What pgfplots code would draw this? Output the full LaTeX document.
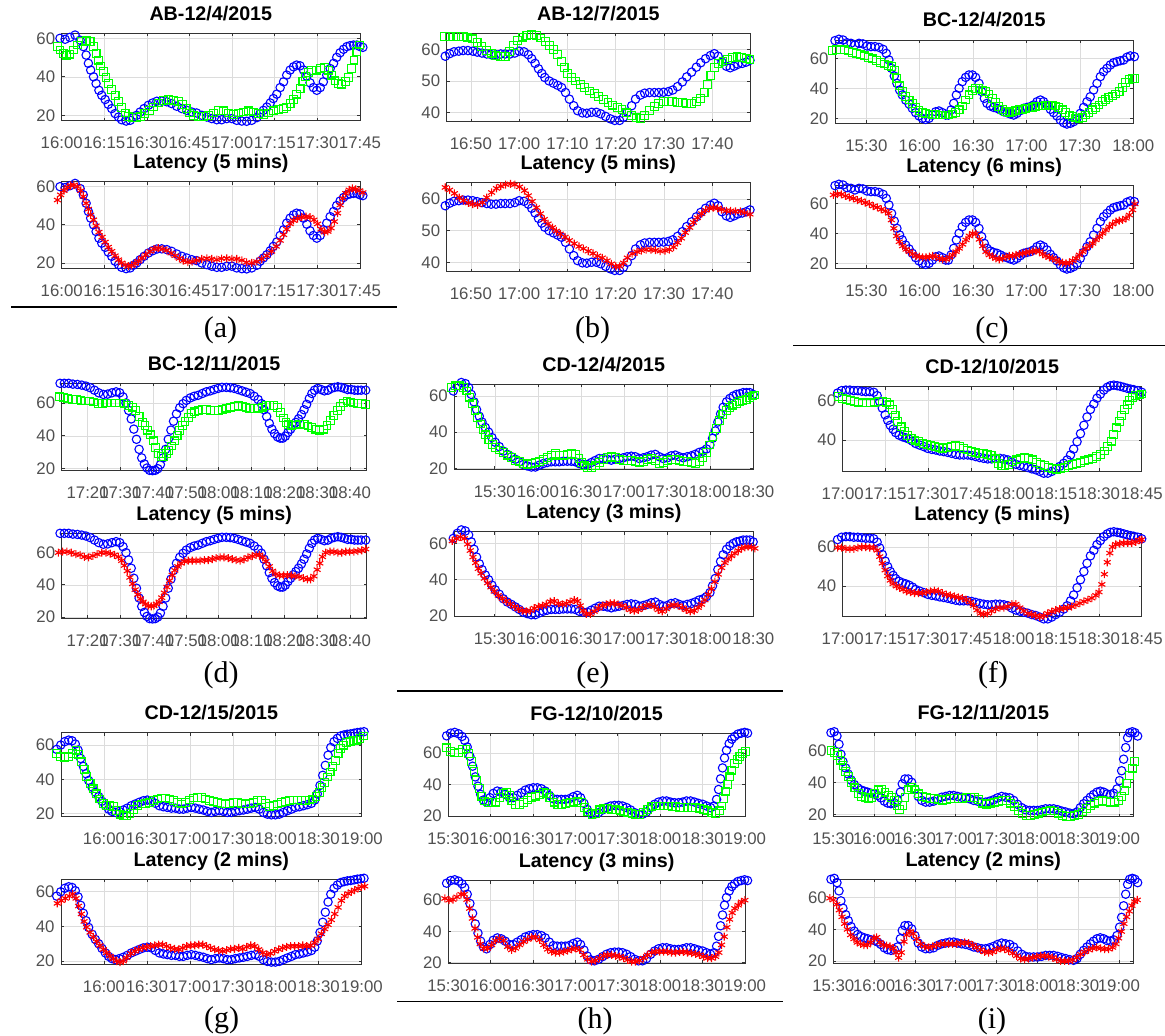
\documentclass[border=0pt]{standalone}
\usepackage{fontspec}
\setmainfont{Liberation Sans}
\newfontfamily\capfont{Liberation Serif}
\usepackage{pgfplots}
\usepackage{pgfplotstable}
\pgfplotsset{compat=1.18}

\definecolor{tickgray}{HTML}{505050}
\definecolor{boxgray}{HTML}{333333}
\definecolor{gridgray}{HTML}{DCDCDC}

\pgfplotsset{
  pn/.style={
    scale only axis, clip=false, anchor=north west,
    grid=major, grid style={gridgray, line width=0.6pt},
    axis line style={boxgray, line width=0.7pt},
    tick style={boxgray, line width=0.7pt}, major tick length=3pt, tick align=inside,
    tick label style={font=\fontsize{16.8}{18}\selectfont, text=tickgray},
    /pgf/number format/assume math mode=true,
    title style={font=\fontsize{19.7}{22}\selectfont\bfseries, anchor=base, at={(0.5,1)}, yshift=7pt},
    xticklabel style={anchor=base, yshift=-28pt},
    yticklabel style={anchor=east, xshift=-3pt},
  },
  bl/.style={only marks, mark=o, mark size=4.2pt, blue, line width=1.1pt},
  gr/.style={only marks, mark=square, mark size=3.9pt, green, line width=1.1pt},
  rd/.style={only marks, mark=asterisk, mark size=4pt, red, line width=1.1pt},
}

% blue series, shared by the upper and lower plot of each panel
\pgfplotstableread{
t v
-0.6 60
1.2 59.5
2.9 60.5
4.7 61.7
6.5 59
7.6 55.7
8.6 51.3
9.4 47
10.2 43.5
11.2 40
12.1 36.5
13.1 33
14.1 30.4
15.3 28.2
16.4 25.7
17.6 23.5
18.8 20.9
20 19.1
21.1 17.7
22.7 17
24.1 17.4
25.2 18.8
26.4 20
27.6 21.7
29 23.5
30.5 25.2
32 26.4
33.5 27.3
35.2 27.4
37 27
38.7 26.1
40.5 24.7
42.3 23.5
44 22.6
45.8 21.7
47.5 21.2
49.3 20
51.1 19.1
52.8 18.3
54.6 17.7
56.3 17.7
58.1 18.3
59.9 18.3
61.6 17.4
63.4 17
65.1 16.9
66.9 17.4
68.7 18.8
69.8 20.9
71 22.6
72.2 24.3
73.4 26.4
74.5 28.7
75.7 31
76.9 34.4
78.1 37.4
79.2 40.9
80.4 43.5
81.6 45.2
82.7 46.1
83.9 45.7
85.1 43.5
86.3 40.3
87.4 36.9
88.6 34.4
89.8 33
91 34.4
92.1 37.4
93.3 40.9
94.5 44.3
95.7 47
96.8 50.1
98 52.5
99.2 54.3
100.4 55.7
101.5 56.2
102.7 56.5
103.9 56.5
105 55.7
106 55.3
}\blueA

\pgfplotstableread{
t v
-0.3 57.9
0.6 58.7
1.5 59.3
2.5 59.5
3.4 59.7
4.4 59.7
5.4 59.5
6.3 59.2
7.3 58.9
8.3 58.6
9.2 58.4
10.2 58.4
11.2 58.6
12.1 58.6
13.1 58.6
14.1 58.9
15 59.5
16 59.3
16.9 58.4
17.6 57.1
18.3 55.6
19 53.9
19.7 52.4
20.3 51.1
21.2 50
22.1 49.3
23 48.6
23.8 47.9
24.6 46.3
25.4 44.2
26.3 42.1
27.1 40.5
28.1 39.8
29 39.7
30 40
31 40
31.9 39.5
32.9 38.7
33.9 37.9
34.8 37.4
35.8 37.4
36.6 38.4
37.4 40
38.3 42.1
39.1 44.2
40.1 45.5
41 46.1
42 46.3
43 46.3
43.9 46.3
44.9 46.4
45.9 46.6
46.8 47.1
47.8 48.2
48.8 49.7
49.7 51.3
50.7 52.8
51.7 54.4
52.6 55.8
53.6 57.1
54.6 58.1
55.4 58.7
56.2 57.9
57 56
57.9 54.7
58.7 54.2
59.5 54.7
60.3 55.3
61.2 55.6
62 56
62.8 56.6
}\blueB

\pgfplotstableread{
t v
12.4 71.8
14.6 72.7
16.9 72.2
19.1 70.4
21.4 70
23.6 68.9
25.9 70
28.1 69.6
30.4 68.2
32.6 67.8
34.9 67.8
37.1 67.3
39.4 66
41.2 63.3
42.7 58.9
44.2 53.3
45.7 48.2
47.2 43.3
48.7 38.9
50.2 35.6
52.1 32.2
54 29.6
55.8 26.7
57.7 23.8
59.6 21.6
61.5 20
63.3 19.3
65.2 20
67.1 22.2
69 24.4
70.8 24.9
72.7 23.8
74.6 22.2
76.1 22.2
77.6 25.6
79.1 30
80.6 35.6
82.1 40
83.9 44.4
85.8 47.3
87.7 48.9
89.6 48.9
91.4 47.3
93.3 43.3
94.8 37.8
96.3 33.3
97.8 30
99.7 28.2
101.5 27.3
103.4 26.7
105.3 25.6
107.2 24.4
109 23.8
110.9 22.9
112.8 22.2
114.6 23.3
116.5 25.1
118.4 26.7
120.3 27.3
122.1 27.8
124 28.9
125.9 31.1
127.8 32.2
129.6 31.1
131.5 28.9
133.4 26
135.2 23.8
137.1 21.6
139 18.9
140.9 17.1
142.7 16.2
144.6 16.7
146.5 17.8
148.4 20
150.2 23.3
152.1 27.3
154 31.1
155.8 34.4
157.7 38.9
159.6 43.3
161.5 47.8
163.3 51.1
165.2 53.3
167.1 55.6
169 57.1
170.8 57.8
172.7 58.4
174.6 58.9
176.4 60.7
178.3 61.6
180.6 61.1
}\blueC

\pgfplotstableread{
t v
11.6 72
12.9 72
14.2 72
15.5 71.5
16.9 71.3
18.2 70.9
19.5 70.3
20.8 69.3
22.1 67.8
23.4 66.2
24.8 65.2
26.1 65.4
27.4 66.2
28.7 66.8
29.8 66.2
30.8 63.7
31.7 60
32.5 55.5
33.3 50.3
34.1 44.1
34.9 37.9
35.7 31.8
36.5 26.6
37.3 22.9
38.1 20.4
38.9 19
39.8 18.8
40.6 19
41.4 20
42.2 22.5
43 26.6
43.8 31.8
44.6 37.9
45.4 43.5
46.2 48.9
47.1 53.4
48.1 57.1
49.1 59.6
50.1 61.6
51.3 63.1
52.5 64.1
53.7 64.7
55 65.8
56.2 66.8
57.4 67.4
58.6 68.2
59.8 68.9
61 69.5
62.3 69.5
63.5 69.3
64.7 68.9
65.9 68.2
67.1 67.4
68.3 66.6
69.5 65.8
70.8 64.1
72 62.1
73 59.6
73.8 55.9
74.6 51.8
75.4 47.6
76.2 44.1
77 41.4
77.9 39.4
78.7 38.6
79.5 38.6
80.3 39.8
81.1 42.1
81.9 44.1
82.7 46.2
83.5 48.2
84.3 50.3
85.2 53
86 55.9
86.8 59.2
87.6 62.7
88.4 65.8
89.2 67.8
90.2 68.9
91.2 68.2
92.2 67.4
93.3 67.8
94.3 68.9
95.3 69.5
96.3 69.9
97.3 69.5
98.3 68.9
99.3 68.2
100.4 68.2
101.4 67.8
102.4 67.8
103.4 67.8
104.8 67.8
}\blueD

\pgfplotstableread{
t v
1.1 62.8
3.9 65.6
6.7 67.5
9.5 66.9
11.8 64.7
13.6 60.9
15.5 56.8
17.3 52.5
19.2 48.8
21.1 45.6
23.4 42.6
25.7 40
28 37
30.3 34.4
33.1 32
35.9 29.5
38.7 27.7
41.5 26.4
44.3 25
47 23.6
49.8 22.1
52.6 21.3
55.4 20.7
58.2 20.7
61 21.7
63.7 22.6
66.5 23.2
69.3 23.6
72.1 23.6
74.9 23.6
77.7 23.9
80.5 23.9
83.2 23.9
86 23.6
88.8 22.6
91.6 22.1
94.4 22.1
97.2 23.2
99.9 24.3
102.7 25.4
105.5 25.4
108.3 25
111.1 24.5
113.9 25
116.6 25.4
119.4 25.8
122.2 26.4
125 26.7
127.8 26.4
130.6 25.4
133.4 25.8
136.1 26.4
138.9 27.3
141.7 27.7
144.5 26.4
147.3 25.4
150.1 25.8
152.8 26.9
155.6 27.3
158.4 26.4
161.2 25.8
164 26.4
166.8 26.9
169.5 27.7
172.3 28.8
175.1 29.5
177.4 30.7
179.8 32.9
181.6 36.6
183.5 40.7
185.3 45.6
187.2 50.1
189 53.8
191.4 56.8
193.7 58.7
196 60
198.3 60.9
200.6 61.3
202.9 61.9
205.3 61.9
207.6 61.9
209.9 60.9
}\blueE

\pgfplotstableread{
t v
-1.8 63.8
-0.4 65
1.1 65.3
2.5 65.3
3.9 65
5.3 65
6.7 64.7
8.1 64.5
9.5 64.5
10.9 64.2
12.1 62.5
13 59.5
13.9 56.2
14.9 52.8
15.8 50
16.7 47.5
17.7 45.5
18.6 43.8
19.8 42.5
21 41.7
22.1 41.2
23.3 40.5
24.5 39.5
25.6 38.3
27 37.5
28.5 36.7
29.9 35.8
31.3 35.3
32.7 35
34.1 34.5
35.5 34.2
36.9 33.8
38.3 33.3
39.7 32.8
41.1 32.5
42.5 32.5
43.9 32.5
45.3 32.2
46.7 31.7
48.1 31.2
49.5 30.8
50.9 30.5
52.3 30.5
53.7 30.8
55.2 30.8
56.6 30.5
58 30
59.4 28.8
60.8 27.8
62.2 27.2
63.6 26.7
65 26.2
66.4 25.5
67.8 25
69.2 24.2
70.6 23.3
72 23.3
73.4 24.2
74.8 25.5
76.2 26.7
77.6 28.3
78.8 30
80 32.5
81.1 35.5
82.3 39.2
83.5 43.3
84.7 47.5
85.8 51.7
87 55.5
88.2 58.3
89.3 61.2
90.5 63.3
91.7 65.3
92.9 66.7
94 67.5
95.2 67.8
96.4 67.5
97.5 67.2
98.7 66.7
99.9 66.2
101.1 65.8
102.2 65.5
103.6 65
105 64.2
}\blueF

\pgfplotstableread{
t v
-3 57.5
-0.2 60
2.6 62
5.4 62.9
7.7 62.5
10 60.6
11.9 57.1
13.7 52.2
15.6 47.6
17.5 43.3
19.3 39.4
21.7 35.5
24 32.5
26.3 30
28.6 27.3
31 24.7
33.3 22.7
35.6 21.4
38 20.8
40.7 21.4
43.5 22.2
46.3 23.3
49.1 24.7
51.9 25.7
54.7 26.7
57.5 27.6
60.3 28
63.1 27.6
65.9 26.1
68.7 24.7
71.5 24.1
74.3 23.7
77.1 23.3
79.9 23.3
82.7 22.7
85.4 22.7
88.2 23.3
91 23.7
93.8 23.3
96.6 22.7
99.4 22.2
102.2 21.4
105 20.8
107.8 21.4
110.6 21.8
113.4 21.4
116.2 20.8
119 20.8
121.8 21.4
124.6 21.8
127.4 22.2
130.2 22.7
132.9 23.3
135.7 23.7
138.5 22.7
141.3 20.8
144.1 19.8
146.9 19.4
149.7 19.4
152.5 19.8
155.3 20.8
158.1 21.8
160.9 22.7
163.7 23.7
166.5 24.1
169.3 24.7
172.1 25.3
174.9 26.1
177.2 28
179 31.6
180.9 36.5
182.8 42.4
184.6 48.2
186.5 54.1
188.4 58.6
190.7 62
193 63.9
195.3 65.3
197.7 65.9
200 66.3
202.3 66.5
204.7 66.9
207 67.3
209.3 67.5
211.6 67.8
}\blueG

\pgfplotstableread{
t v
-1.2 70.9
1.7 72.6
4.5 73.1
7.3 72.2
9.7 70.5
11.6 68
13.4 63.8
15.3 57.9
17.2 51.6
19.1 44.8
21 38.9
22.9 33.7
24.8 30.1
27.1 28.8
29.5 31.6
31.8 34.3
34.7 35.8
37.5 35.2
40.3 33.7
43.2 31.6
46 31.6
48.8 33.1
51.7 34.7
54.5 36.4
57.3 37.3
60.1 37.9
63 37.9
65.8 37.3
68.6 35.8
71.5 33.1
74.3 30.9
77.1 30.5
80 30.5
82.8 30.5
85.6 30.9
88.4 32.2
91.3 33.1
93.6 31.6
96 28
98.3 24.2
100.7 21.7
103.5 21.1
106.4 22.1
109.2 23.8
112 25.3
114.9 26.3
117.7 26.7
120.5 26.7
123.3 26.3
126.2 25.3
129 23.8
131.8 22.1
134.7 21.1
137.5 21.1
140.3 22.5
143.2 25.3
146 27.4
148.8 28.8
151.7 29.5
154.5 29.5
157.3 28.8
160.1 28.4
163 28.4
165.8 28.8
168.6 29.5
171.5 29.5
174.3 28.8
177.1 28
180 27.4
182.8 26.3
185.6 25.3
188 26.3
189.9 30.5
191.3 36.8
192.7 43.6
194.1 50.5
195.5 56.8
196.9 61.7
198.8 65.9
200.7 68.8
202.6 70.5
205 72
207.3 72.6
209.7 73.1
211.8 72.6
}\blueH

\pgfplotstableread{
t v
-1.7 71.5
0.7 72.1
2.7 69.4
4.2 64.2
5.6 57.9
7.1 53.3
9.1 49.2
11 45.4
13 41.7
15.4 38.8
17.9 36.7
20.3 35.4
22.8 34.6
25.2 34
27.7 33.3
30.1 32.9
32.6 31.9
35 30.4
37.5 28.3
40 27.1
42.4 26.7
44.9 27.1
47.3 28.8
49.3 34
50.7 39.2
52.7 42.3
55.1 42.3
57.6 40.2
60 36
62.5 31.3
65 28.8
67.9 27.7
70.8 27.7
73.8 28.3
76.7 29.8
79.7 30.8
82.6 31.3
85.5 31.9
88.5 31.9
91.4 31.3
94.4 30.8
97.3 30.4
100.2 29.8
103.2 28.8
106.1 28.3
109.1 27.7
112 27.7
114.9 28.3
117.9 29.2
120.8 30.4
123.8 31.3
126.7 30.8
129.7 30.4
132.6 28.8
135.5 26.3
138.5 24.2
141.4 22.9
144.4 22.5
147.3 22.5
150.2 22.5
153.2 22.9
156.1 23.5
159.1 23.5
162 23.5
165 22.9
167.9 22.1
170.8 21.5
173.8 20.8
176.7 20.4
179.2 21.5
181.6 24.2
184.1 26.7
186.5 28.8
189 30.8
191.4 32.5
193.9 34
196.3 34.6
198.8 34
201.2 32.9
203.7 32.5
206.1 33.3
208.6 36
210.5 41.3
212 47.5
213.5 54.8
215 62.1
216.4 68.3
217.9 71.5
219.9 72.1
221.8 71.5
223.8 69.4
}\blueI

\begin{document}
\begin{tikzpicture}
\useasboundingbox (0,0) rectangle (1165pt,-1036pt);

% ---------------- (a)
\begin{axis}[pn, at={(61.7pt,-33.3pt)}, width=298.3pt, height=87.4pt,
  title={AB-12/4/2015}, xmin=0, xmax=105, ymin=17.2, ymax=62.6,
  xtick={0,15,...,105}, xticklabels={16:00,16:15,16:30,16:45,17:00,17:15,17:30,17:45},
  ytick={20,40,60}]
\addplot[bl] table {\blueA};
\addplot[gr] table {
t v
-1.5 55.6
-0.6 53.9
0.6 52.2
1.8 51.3
2.9 51.8
4.1 53.9
5.5 56.5
7 58.3
8.6 58.8
10 58.3
11.2 55.7
12.1 52.2
12.9 48.7
13.7 45.6
14.7 42.6
15.6 39.7
16.5 36.5
17.6 33.4
18.8 30.4
20 27
21.1 24
22.3 21.2
23.5 19.5
24.9 18.8
26.4 18.8
27.8 19.5
29.3 20.9
30.8 22.6
32.3 24.3
34 26.4
35.8 27.8
37.6 28.2
39.3 27.8
41.1 27
42.6 25.7
43.8 23.5
45 21.2
46.4 20
48.1 19.5
49.9 19.5
51.6 20
53.4 21.2
55.2 22.6
56.9 22.3
58.7 21.2
60.4 20.5
62.2 21.2
64 21.7
65.7 22.3
67.5 21.7
69.2 20.9
71 20.5
72.8 21.2
74.5 22.3
76.3 23
78.1 23.5
79.2 24.3
80.4 26.1
81.6 28.2
82.7 31
83.9 33.9
84.9 37.4
85.8 40
86.9 42.1
88 43.1
89.6 43.5
91 44.3
92.4 44.7
93.9 43.5
95.1 40.9
96.2 37.9
97.4 36.5
98.6 36.2
99.8 37.4
100.9 39.7
102.1 44.3
102.9 48.7
103.9 53
104.8 56.5
};
\end{axis}
\begin{axis}[pn, at={(61.7pt,-181.7pt)}, width=298.3pt, height=86.6pt,
  title={Latency (5 mins)}, xmin=0, xmax=105, ymin=17.2, ymax=62.6,
  xtick={0,15,...,105}, xticklabels={16:00,16:15,16:30,16:45,17:00,17:15,17:30,17:45},
  ytick={20,40,60}]
\addplot[bl] table {\blueA};
\addplot[rd] table {
t v
-1.5 53
-0.4 55.7
0.8 57.9
2 59.7
3.2 60.7
4.3 60.9
5.5 60
6.7 57.9
7.6 54.8
8.6 51.3
9.4 48.2
10.2 45.2
11.2 42.6
12.1 39.5
13.1 36.2
14.2 33.6
15.3 31
16.4 28.3
17.6 26.1
18.8 23.8
20 21.7
21.1 20
22.3 19
23.5 18.3
24.6 18.7
25.8 19.7
27 20.9
28.2 22.6
29.6 24.3
31.1 26.1
32.5 27.3
34 27.8
35.6 27.3
37 26.6
38.5 25.2
39.9 23.8
41.4 22.4
42.8 21.2
44.4 20.5
45.9 20.7
47.5 21.4
49.3 22.1
51.1 22.4
52.8 22.1
54.6 21.7
56.3 22.3
58.1 22.4
59.9 22.1
61.6 22.1
63.4 21.4
65.1 20.3
66.9 20
68.7 20.7
70.4 22.1
72.2 23.8
73.9 26.1
75.5 28.7
76.9 31.8
78.1 34.8
79.2 37.7
80.4 40.5
81.6 42.3
83 43.3
84.5 44
86 44.3
87.4 44
88.8 42.6
90.1 40.5
91.3 37.7
92.5 36.2
93.7 36.5
94.8 38.3
96 41.7
97.1 46.1
98 50.4
98.9 53.9
100 56.5
101.2 58.3
102.3 59.1
103.5 58.6
104.7 57.9
106 56.9
};
\end{axis}

% ---------------- (b)
\begin{axis}[pn, at={(446.7pt,-33.3pt)}, width=303.3pt, height=88.4pt,
  title={AB-12/7/2015}, xmin=0, xmax=62.8, ymin=37, ymax=65.2,
  xtick={5,15,...,55}, xticklabels={16:50,17:00,17:10,17:20,17:30,17:40},
  ytick={40,50,60}]
\addplot[bl] table {\blueB};
\addplot[gr] table {
t v
-0.5 64.2
0.5 64.2
1.4 64.2
2.4 64.2
3.4 64.2
4.3 64
5.3 63.4
6.3 62.3
7.2 61.1
8.2 59.8
9.2 58.9
10.1 58.1
11.1 57.7
12.1 57.9
13 59.5
13.9 61.3
14.7 62.9
15.7 64
16.6 64.6
17.6 64.7
18.6 64.4
19.5 63.7
20.5 62.6
21.3 61.3
22.1 60
23 58.4
23.7 56.3
24.3 54.2
25 52.4
25.9 51.1
26.7 50
27.7 48.9
28.6 47.9
29.6 46.8
30.6 46
31.5 45.1
32.5 44
33.4 43.2
34.4 42.3
35.4 41.6
36.3 40.8
37.3 39.8
38.3 38.9
39.2 38.2
40.2 38.1
41 38.9
42 40.5
43 41.9
43.9 42.9
44.9 43.5
45.9 43.5
46.8 43.4
47.8 43.2
48.8 43.2
49.7 42.9
50.7 42.9
51.7 43.4
52.6 44.4
53.3 46.3
54 48.9
54.7 51.8
55.4 54.2
56.2 55.6
57.2 56.3
58.1 56.8
59.1 57.4
60.1 57.7
61 57.4
62 57.1
62.8 56.8
};
\end{axis}
\begin{axis}[pn, at={(446.7pt,-182.7pt)}, width=303.3pt, height=89pt,
  title={Latency (5 mins)}, xmin=0, xmax=62.8, ymin=37, ymax=65.2,
  xtick={5,15,...,55}, xticklabels={16:50,17:00,17:10,17:20,17:30,17:40},
  ytick={40,50,60}]
\addplot[bl] table {\blueB};
\addplot[rd] table {
t v
-0.3 63.7
0.6 62.9
1.6 61.8
2.6 60.5
3.5 59.5
4.5 58.8
5.4 58.4
6.4 58.2
7.4 58.9
8.3 60.5
9.3 62.1
10.3 63.4
11.2 64.1
12.2 64.6
13.2 64.8
14.1 64.6
15.1 63.9
16.1 62.7
16.9 61.1
17.7 59.3
18.6 57.3
19.4 55.4
20.2 53.6
21 52.2
21.9 51
22.7 49.9
23.5 49
24.5 48
25.4 46.9
26.4 45.9
27.4 45
28.3 44.3
29.3 43.5
30.3 42.8
31.2 42
32.2 41.4
33.2 40.5
34.1 39.5
35 38.7
35.8 38.7
36.6 39.8
37.4 41.4
38.4 42.7
39.4 43.3
40.3 43.7
41.3 44
42.3 44
43.2 43.8
44.2 43.5
45.2 43.7
46.1 44
47 44.8
47.8 46.2
48.6 47.6
49.4 49.4
50.3 51
51.1 52.6
51.9 54.1
52.8 55.4
53.6 56.5
54.4 57.1
55.2 57.3
56.1 57.1
56.9 56.7
57.9 56.3
58.8 56.3
59.8 56.1
60.8 56.1
61.7 55.7
62.8 55.2
};
\end{axis}

% ---------------- (c)
\begin{axis}[pn, at={(835pt,-40pt)}, width=298.3pt, height=83.3pt,
  title={BC-12/4/2015}, xmin=12.4, xmax=180, ymin=16.7, ymax=72.2,
  xtick={30,60,...,180}, xticklabels={15:30,16:00,16:30,17:00,17:30,18:00},
  ytick={20,40,60}]
\addplot[bl] table {\blueC};
\addplot[gr] table {
t v
10.9 65.1
13.1 65.6
15.4 66
17.6 65.6
19.9 64.9
22.1 64
24.4 63.3
26.6 62.7
28.9 61.6
31.1 60.7
33.4 59.6
35.6 58.4
37.9 57.1
40.1 56.2
42.4 55.1
44.2 54.4
45.7 52.2
47.2 46.7
48.7 41.6
50.2 37.8
52.1 34.4
54 32.2
55.8 30
57.7 27.3
59.6 25.1
61.5 24
63.3 23.3
65.2 22.9
67.1 22.7
69 22.7
70.8 22.2
72.7 22.2
74.6 22.2
76.4 22.2
78.3 22.9
80.2 23.8
82.1 25.6
83.9 28.2
85.8 32.2
87.7 35.6
89.6 38.4
91.4 40
93.3 40
95.2 38.9
97 37.8
98.9 36.2
100.8 33.3
102.7 30.4
104.5 27.8
106.4 26
108.3 24.4
110.2 24
112 24.4
113.9 25.1
115.8 25.6
117.6 26
119.5 26.4
121.4 26.9
123.3 27.3
125.1 27.8
127 28.2
128.9 28.2
130.8 28.7
132.6 28.9
134.5 28.9
136.4 28.2
138.2 27.3
140.1 25.6
142 23.8
143.9 22.2
145.7 21.1
147.6 20.2
149.5 20
151.4 20.7
153.2 22.2
155.1 23.8
157 25.6
158.8 27.3
160.7 28.9
162.6 31.1
164.5 32.7
166.3 34
168.2 34.9
170.1 36.2
172 37.8
173.8 40.7
175.7 43.8
177.6 46
179.4 46.7
180.9 46.7
};
\end{axis}
\begin{axis}[pn, at={(835pt,-185pt)}, width=298.3pt, height=83.3pt,
  title={Latency (6 mins)}, xmin=12.4, xmax=180, ymin=16.7, ymax=72.2,
  xtick={30,60,...,180}, xticklabels={15:30,16:00,16:30,17:00,17:30,18:00},
  ytick={20,40,60}]
\addplot[bl] table {\blueC};
\addplot[rd] table {
t v
11.5 65.6
13.7 66.2
16 66
18.2 64.9
20.5 64
22.7 63.3
25 62.2
27.2 61.6
29.4 60.4
31.7 59.6
33.9 58.2
36.2 57.3
38.4 56
40.7 54.9
42.6 53.3
44.1 48.9
45.5 43.3
47 38.2
48.5 34.4
50.4 31.6
52.3 29.3
54.2 27.8
56 26.2
57.9 24.9
59.8 24.4
61.6 24
63.5 24
65.4 24.4
67.3 24.9
69.1 24.4
71 23.3
72.9 22.7
74.8 22.7
76.6 24
78.5 25.6
80.4 27.8
82.2 30
84.1 32.7
86 35.6
87.9 38.2
89.7 40
91.6 39.6
93.5 36
95.4 31.6
97.2 27.8
99.1 25.6
101 24.4
102.8 23.3
104.7 22.7
106.6 23.3
108.5 24.4
110.3 24.9
112.2 24.9
114.1 25.6
116 26.2
117.8 26.7
119.7 27.1
121.6 27.8
123.5 27.8
125.3 28.4
127.2 27.8
129.1 26.2
130.9 24.9
132.8 24
134.7 23.3
136.6 22.2
138.4 21.1
140.3 20.4
142.2 20
144.1 20.4
145.9 21.8
147.8 23.3
149.7 25.6
151.5 27.8
153.4 30
155.3 31.6
157.2 33.3
159 35.6
160.9 37.8
162.8 40
164.6 42.2
166.5 44.4
168.4 46.2
170.3 47.8
172.1 48.4
174 48.9
175.9 50
177.8 52.2
179.6 55.6
180.9 59.6
};
\end{axis}

% ---------------- (d)
\begin{axis}[pn, at={(61.7pt,-383.3pt)}, width=305pt, height=86.7pt,
  title={BC-12/11/2015}, xmin=12.1, xmax=105.1, ymin=19.2, ymax=72,
  xtick={20,30,...,100}, xticklabels={17:20,17:30,17:40,17:50,18:00,18:10,18:20,18:30,18:40},
  ytick={20,40,60}]
\addplot[bl] table {\blueD};
\addplot[gr] table {
t v
11.4 63.7
12.7 63.3
14 62.7
15.3 62.3
16.7 62.1
18 61.6
19.3 61.2
20.6 61.2
21.9 60.6
23.2 59.6
24.6 59.6
25.9 60
27.2 60
28.5 60
29.8 60
31.1 59.6
32.5 58.6
33.7 57.5
34.7 55.5
35.7 51.8
36.7 48.2
37.5 46.2
38.3 43.5
39.2 40.6
40 36.9
40.8 32.8
41.6 29.1
42.4 27.6
43.2 27.6
44 29.1
44.8 31.1
45.6 33.8
46.4 36.9
47.3 40
48.1 43.1
48.9 46.2
49.7 48.9
50.7 51.3
51.7 53.4
52.7 54.6
53.7 55.5
55 55.9
56.2 55.9
57.4 55.5
58.6 55.5
59.8 55.5
61 55.9
62.3 56.9
63.5 57.5
64.7 57.9
65.9 58.4
67.1 57.9
68.3 57.1
69.5 56.5
70.8 56.5
72 56.9
73.2 57.5
74.4 58.4
75.6 58.6
76.8 58.4
77.9 57.1
78.9 54.4
79.7 50.9
80.5 48
81.3 46.8
82.3 46.2
83.5 46.6
84.7 47.2
86 46.8
87.2 46
88.4 45.2
89.6 44.1
90.8 43.5
92 44.1
93 46.2
94.1 49.3
95.1 52.4
96.1 55.5
97.1 57.9
98.1 60
99.1 61.2
100.1 60.6
101.2 60
102.4 59.6
103.6 59.6
104.8 59.2
};
\end{axis}
\begin{axis}[pn, at={(61.7pt,-533.3pt)}, width=305pt, height=85pt,
  title={Latency (5 mins)}, xmin=12.1, xmax=105.1, ymin=19.2, ymax=72,
  xtick={20,30,...,100}, xticklabels={17:20,17:30,17:40,17:50,18:00,18:10,18:20,18:30,18:40},
  ytick={20,40,60}]
\addplot[bl] table {\blueD};
\addplot[rd] table {
t v
11.1 60
12.4 60.6
13.7 60.6
15 60
16.4 59
17.7 58.6
19 57.4
20.3 57
21.6 58
22.9 59
24.3 60
25.6 60
26.9 59.4
28.2 58.6
29.4 57.4
30.4 55
31.2 52
32.1 48.6
32.9 44.6
33.7 40.6
34.5 37
35.3 34
36.1 31.4
36.9 29.4
37.7 28
38.5 27
39.4 26.6
40.2 27
41 28
41.8 29.4
42.6 32
43.4 35
44.2 38.6
45 42.6
45.8 46
46.6 49
47.5 51.4
48.5 53.4
49.5 54.6
50.7 55
51.9 55
53.1 55
54.3 55
55.6 55.4
56.8 55.4
58 56
59.2 56.6
60.4 57
61.6 57
62.9 56.6
64.1 56
65.3 55.4
66.5 55
67.7 55.8
68.9 57
70.2 57.8
71.4 58.6
72.4 58.6
73.4 57
74.4 54.6
75.4 51.4
76.4 48.6
77.4 46.6
78.5 45.8
79.7 45.8
80.9 46
82.1 45.8
83.3 45.4
84.5 45
85.8 44.2
87 43.4
88 43.4
89 45.4
90 49.4
90.8 53.4
91.6 57.4
92.6 60
93.9 60.6
95.1 60.6
96.3 60
97.5 60
98.7 60.6
99.9 60.6
101.2 60.6
102.4 61
103.6 61.4
104.8 62.2
};
\end{axis}

% ---------------- (e)
\begin{axis}[pn, at={(454.3pt,-384.3pt)}, width=299pt, height=84.7pt,
  title={CD-12/4/2015}, xmin=1.8, xmax=210, ymin=19.6, ymax=66.5,
  xtick={30,60,...,210}, xticklabels={15:30,16:00,16:30,17:00,17:30,18:00,18:30},
  ytick={20,40,60}]
\addplot[bl] table {\blueE};
\addplot[gr] table {
t v
-0.1 64.7
2.7 65.6
5.5 65.6
8.3 64.7
10.6 62.8
12.5 59.4
14.3 55.7
16.2 52
18 48.2
19.9 44.5
21.8 41.3
23.6 38.5
25.9 35.7
28.3 33.3
30.6 31.4
33.4 30.1
36.1 28.8
38.9 27.3
41.7 25.8
44.5 24.5
47.3 23.6
50.1 22.6
52.8 22.2
55.6 22.6
58.4 23.2
61.2 23.9
64 25
66.8 25.8
69.5 27.3
72.3 28.2
75.1 27.3
77.9 26.9
80.7 27.7
83.5 28.2
86.3 27.7
88.6 25.4
90.4 23.2
92.3 21.3
94.6 20.2
97.4 20.2
100.2 21.3
102.9 23.2
105.7 25
108.5 25.8
111.3 26.4
114.1 25.8
116.9 25
119.7 24.5
122.4 24.5
125.2 24.5
128 23.9
130.8 23.2
133.6 23.6
136.4 25
139.2 25.4
141.9 24.5
144.7 22.6
147.5 23.2
150.3 24.5
153.1 25
155.9 25
158.6 24.5
161.4 23.9
164.2 23.6
167 23.2
169.8 22.6
172.6 23.6
174.9 25.8
177.2 28.8
179.5 32.9
181.9 37.6
184.2 42.2
186.5 46.4
188.8 49.7
191.1 52
193.4 53.8
195.8 55
198.1 55.7
200.4 56.8
202.7 57.6
205 58.1
207.4 59.1
209.7 60
211.1 60.6
};
\end{axis}
\begin{axis}[pn, at={(454.3pt,-531.7pt)}, width=299pt, height=85pt,
  title={Latency (3 mins)}, xmin=1.8, xmax=210, ymin=19.6, ymax=66.5,
  xtick={30,60,...,210}, xticklabels={15:30,16:00,16:30,17:00,17:30,18:00,18:30},
  ytick={20,40,60}]
\addplot[bl] table {\blueE};
\addplot[rd] table {
t v
0.4 61.4
3.2 62.7
6 63.6
8.8 62.7
11.1 59.6
12.9 56.1
14.8 52.5
16.6 49.3
18.5 46.1
20.4 43.6
22.7 40.7
25 38.2
27.3 35.9
29.6 33.6
32.4 31.4
35.2 29.6
38 28.2
40.8 26.6
43.6 25.2
46.3 23.9
49.1 23
51.9 22.5
54.7 23
57.5 24.3
60.3 25.2
63.1 25.7
65.8 26.4
68.6 27.9
71.4 28.2
74.2 27
77 26.4
79.8 27
82.5 27.9
85.3 28.8
87.6 28.2
89.5 25.7
91.4 22.9
93.7 21.1
96.5 21.1
99.2 22.5
102 24.3
104.8 25.7
107.6 26.4
110.4 27
113.2 27
115.9 26.4
118.7 25.7
121.5 24.6
124.3 23.4
127.1 22.9
129.9 23.4
132.7 24.6
135.4 25.7
138.2 26.1
141 25.2
143.8 23.4
146.6 22.5
149.4 23.9
152.1 25.7
154.9 26.1
157.7 25.7
160.5 24.6
163.3 23.4
166.1 22.5
168.9 22.9
171.6 24.6
173.9 26.4
176.3 28.8
178.6 31.8
180.9 35
183.2 38.9
185.6 43
187.9 46.6
190.2 49.3
192.5 51.4
194.8 53.2
197.2 54.6
199.5 56.1
201.8 57.3
204.1 57.9
206.4 58.2
208.8 57.9
211.1 57.3
};
\end{axis}

% ---------------- (f)
\begin{axis}[pn, at={(842.7pt,-386.7pt)}, width=299pt, height=84.3pt,
  title={CD-12/10/2015}, xmin=0, xmax=105, ymin=24.4, ymax=67,
  xtick={0,15,...,105}, xticklabels={17:00,17:15,17:30,17:45,18:00,18:15,18:30,18:45},
  ytick={40,60}]
\addplot[bl] table {\blueF};
\addplot[gr] table {
t v
-1.5 62.2
-0.1 61.2
1.3 60.5
2.7 60
4.1 59.5
5.5 59.2
6.9 58.8
8.3 58.8
9.7 58.8
11.1 59.2
12.5 59.5
13.9 59.5
15.3 59.2
16.5 57.8
17.4 55.5
18.4 52.5
19.3 49.5
20.5 46.7
21.7 44.2
22.8 42.2
24 40.8
25.4 40
26.8 39.2
28.2 38.3
29.6 37.8
31 37.2
32.4 36.7
33.8 36.2
35.2 35.8
36.7 36.2
38.1 36.7
39.5 37.2
40.9 36.7
42.3 35.8
43.7 35
45.1 34.2
46.5 33.8
47.9 33.3
49.3 33.3
50.7 32.8
52.1 32.2
53.5 30.5
54.7 28.3
55.9 27.2
57 27.2
58.2 27.8
59.6 29.2
61 30
62.4 30.8
63.8 31.2
65.2 30.8
66.6 30
68 28.8
69.4 27.8
70.8 27.2
72.2 26.2
73.7 25.5
75.1 25
76.5 25.5
77.9 26.2
79.3 27.2
80.7 27.8
82.1 28.3
83.5 28.8
84.9 29.5
86.3 30
87.7 30.8
89.1 31.7
90.5 32.8
91.9 34.5
93.1 36.7
94.3 39.5
95.2 42.8
96.1 46.2
97.1 49.5
98 52.5
98.9 55.5
99.9 57.8
100.8 60
101.8 61.7
102.9 62.5
104.1 62.8
105 63.3
};
\end{axis}
\begin{axis}[pn, at={(842.7pt,-533.3pt)}, width=299pt, height=83.4pt,
  title={Latency (5 mins)}, xmin=0, xmax=105, ymin=24.4, ymax=67,
  xtick={0,15,...,105}, xticklabels={17:00,17:15,17:30,17:45,18:00,18:15,18:30,18:45},
  ytick={40,60}]
\addplot[bl] table {\blueF};
\addplot[rd] table {
t v
-1.8 59.7
-0.4 59.7
1.1 59.1
2.5 59.1
3.9 59.1
5.3 59.7
6.7 60
8.1 60
9.5 59.7
10.9 59.7
12.1 58.3
13 55.1
13.9 51.7
14.9 48.2
15.8 45.2
16.7 43
17.7 41.2
18.9 40
20 39.1
21.2 38.3
22.4 37.4
23.8 37
25.2 36.5
26.6 36.5
28 36.5
29.4 37
30.8 37.4
32.2 37.7
33.6 37.4
35 36.5
36.4 35.7
37.8 35.3
39.2 34.8
40.6 34.3
42 33.9
43.4 33
44.8 31.8
46 30.1
47.2 27.8
48.4 26.1
49.5 25.6
50.9 26.1
52.3 27.3
53.7 28.3
55.2 29
56.6 29
58 29.6
59.4 30.8
60.8 30.8
62.2 29
63.6 27.3
65 26.1
66.4 25.6
67.8 24.9
69.2 24.3
70.6 24.9
72 26.1
73.4 27
74.8 27.8
76.2 28.3
77.6 28.7
79 29
80.4 29.6
81.9 30.4
83.3 31.3
84.7 32.2
86.1 33
87.5 33.9
88.9 35.3
90 37
91 40.9
91.9 46.1
92.9 52.2
93.8 56.9
94.7 60
95.9 61.4
97.3 61.7
98.7 62.1
100.1 62.1
101.5 62.1
102.9 62.6
104.3 63.5
105 63.8
};
\end{axis}

% ---------------- (g)
\begin{axis}[pn, at={(61pt,-732.7pt)}, width=300.7pt, height=84pt,
  title={CD-12/15/2015}, xmin=0, xmax=210, ymin=18.3, ymax=67.2,
  xtick={30,60,...,210}, xticklabels={16:00,16:30,17:00,17:30,18:00,18:30,19:00},
  ytick={20,40,60}]
\addplot[bl] table {\blueG};
\addplot[gr] table {
t v
-3 55.1
-0.2 53.1
2.6 52.7
5.4 53.1
8.1 55.1
10.5 57.1
12.3 54.7
14.2 50.2
16.1 45.7
17.9 41.8
20.3 37.8
22.6 34.5
24.9 31.6
27.2 28.6
29.6 26.1
31.9 24.7
34.2 24.7
36.6 24.1
38.9 21.8
41.2 19.8
43.5 18.8
45.9 18.8
48.2 20.2
50.5 22.7
53.3 24.7
56.1 25.7
58.9 26.1
61.7 26.7
64.5 27.6
67.3 28.6
70.1 29.2
72.9 29.2
75.7 28.6
78.5 27.6
81.3 26.7
84.1 25.7
86.8 26.7
89.6 28
92.4 29.2
95.2 29.6
98 29.6
100.8 28.6
103.6 27.6
106.4 27.3
109.2 26.7
112 26.1
114.8 25.7
117.6 26.1
120.4 26.7
123.2 26.7
126 26.1
128.8 25.7
131.5 26.1
134.3 26.7
137.1 27.6
139.9 28
142.7 26.1
145.5 24.1
148.3 24.7
151.1 25.7
153.9 26.7
156.7 27.3
159.5 27.6
162.3 28
165.1 28
167.9 27.6
170.7 27.6
173.5 28
175.8 28.6
178.1 30
180.4 32.5
182.3 35.5
184.2 38.4
186 41.4
187.9 44.3
189.8 47.6
191.6 51.2
193.5 55.1
195.3 58
197.2 60
199.5 61.4
201.9 62
204.2 62.5
206.5 62.9
208.8 63.9
211.2 65.3
};
\end{axis}
\begin{axis}[pn, at={(61pt,-879.3pt)}, width=300.7pt, height=84.7pt,
  title={Latency (2 mins)}, xmin=0, xmax=210, ymin=18.3, ymax=67.2,
  xtick={30,60,...,210}, xticklabels={16:00,16:30,17:00,17:30,18:00,18:30,19:00},
  ytick={20,40,60}]
\addplot[bl] table {\blueG};
\addplot[rd] table {
t v
-2.6 53.3
0.2 54.9
3 56.2
5.8 57.5
8.1 58.7
10.5 56.2
12.3 51.8
14.2 47.2
16.1 42.9
17.9 39.6
20.3 36.6
22.6 33.9
24.9 31.4
27.2 29
29.6 26.7
31.9 24.8
34.2 22.9
36.6 21.3
38.9 20
41.2 19.4
43.5 20
45.9 21.9
48.7 24.4
51.5 25.7
54.2 26.7
57 27.6
59.8 28.2
62.6 28.6
65.4 29
68.2 29.5
71 29.5
73.8 28.6
76.6 27.6
79.4 27
82.2 26.7
85 27.6
87.8 28.6
90.6 29
93.4 29
96.2 29.5
99 29.5
101.7 28.6
104.5 27.6
107.3 26.7
110.1 26.3
112.9 25.7
115.7 26.3
118.5 27
121.3 27
124.1 27.6
126.9 27
129.7 28.2
132.5 29
135.3 28.6
138.1 26.7
140.9 24.8
143.7 23.8
146.4 24.4
149.2 25.7
152 26.7
154.8 27.6
157.6 28.2
160.4 28.6
163.2 28.6
166 28.6
168.8 29
171.6 28.6
174.4 29
177.2 30.5
179.5 32.8
181.8 35.8
184.2 38.5
186.5 41
188.8 43.8
191.2 47.2
193.5 51
195.8 54.9
198.1 57.5
200.5 59
202.8 60
205.1 61
207.5 61.9
209.8 62.9
212.1 63.2
};
\end{axis}

% ---------------- (h)
\begin{axis}[pn, at={(448.3pt,-733.3pt)}, width=296.7pt, height=83.4pt,
  title={FG-12/10/2015}, xmin=0, xmax=210, ymin=19.5, ymax=72.5,
  xtick={0,30,...,210}, xticklabels={15:30,16:00,16:30,17:00,17:30,18:00,18:30,19:00},
  ytick={20,40,60}]
\addplot[bl] table {\blueH};
\addplot[gr] table {
t v
-1.2 63.2
1.7 61.1
4.5 60
7.3 60.4
10.1 62.1
12.5 62.5
14.4 59.6
16.3 54.7
18.2 48.4
20 42.7
21.9 37.3
23.8 32.6
25.7 29.5
28.1 28.4
30.9 28.4
33.7 28.8
36.6 31.6
38.9 34.3
41.3 35.2
43.2 33.1
45 29.5
47.4 27.4
50.2 27.4
53.1 28.4
55.9 30.1
58.7 31.6
61.6 32.6
64.4 33.7
67.2 34.7
69.6 34.3
71.9 31.6
74.8 28.8
77.6 27.4
80.4 27.4
83.3 28
86.1 28.4
88.9 28.8
91.7 29.5
94.1 28.4
96.5 25.3
98.8 22.5
101.7 21.1
104.5 21.7
107.3 23.8
110.1 24.6
113 24.6
115.8 24.2
118.6 23.8
121.5 23.2
124.3 22.5
127.1 22.1
130 21.7
132.8 21.1
135.6 21.1
138.4 22.5
141.3 24.2
144.1 25.9
146.9 26.3
149.8 26.3
152.6 26.3
155.4 26.3
158.3 25.9
161.1 25.9
163.9 25.5
166.7 25.3
169.6 25.3
172.4 25.3
175.2 25.1
178.1 24.6
180.9 24.2
183.7 23.2
186.6 22.1
189.4 21.7
191.7 23.2
193.6 26.3
195 30.9
196.5 35.8
197.9 40
199.3 44.8
200.7 49.1
202.6 53.3
204.5 55.8
206.4 57.9
208.3 59.6
210.4 61.1
};
\end{axis}
\begin{axis}[pn, at={(448.3pt,-880.7pt)}, width=296.7pt, height=82.6pt,
  title={Latency (3 mins)}, xmin=0, xmax=210, ymin=19.5, ymax=72.5,
  xtick={0,30,...,210}, xticklabels={15:30,16:00,16:30,17:00,17:30,18:00,18:30,19:00},
  ytick={20,40,60}]
\addplot[bl] table {\blueH};
\addplot[rd] table {
t v
-2.4 61.1
0.5 60
3.3 60.4
6.1 62.1
9 63.8
11.3 63.8
13.2 60.4
15.1 54.7
17 48.3
18.9 41.9
20.8 36.2
22.6 31.9
25 29.1
27.8 29.1
30.7 31.3
33.5 34
36.3 35.5
39.2 34
42 30.2
44.8 28.1
47.6 29.1
50.5 31.3
53.3 33.4
56.1 34.9
59 36.2
61.8 36.2
64.6 34.5
67.5 31.3
70.3 28.5
73.1 27
75.9 26.4
78.8 26.4
81.6 27
84.4 27.7
87.3 28.5
90.1 29.1
92.9 28.1
95.8 24.9
98.6 22.1
101.4 20.6
104.2 21.3
107.1 22.8
109.9 24.3
112.7 24.9
115.6 24.9
118.4 24.3
121.2 23.8
124.1 22.8
126.9 21.7
129.7 20.6
132.5 20.6
135.4 21.3
138.2 22.8
141 24.9
143.9 26.4
146.7 27
149.5 27
152.4 27
155.2 27
158 26.4
160.8 26.4
163.7 26.8
166.5 26.8
169.3 26.4
172.2 26
175 25.5
177.8 24.9
180.7 23.8
183.5 22.8
186.3 22.8
189.2 23.8
191.5 26.4
193.4 31.3
195.3 36.6
197.2 42.6
199.1 47.7
200.9 51.9
202.8 54.7
205.2 56.8
207.5 58.9
209.9 60
};
\end{axis}

% ---------------- (i)
\begin{axis}[pn, at={(833.3pt,-732.7pt)}, width=300pt, height=84pt,
  title={FG-12/11/2015}, xmin=0, xmax=220.6, ymin=18.5, ymax=71.5,
  xtick={0,30,...,210}, xticklabels={15:30,16:00,16:30,17:00,17:30,18:00,18:30,19:00},
  ytick={20,40,60}]
\addplot[bl] table {\blueI};
\addplot[gr] table {
t v
-1.7 60.4
0.7 59
3.2 56.9
5.1 54.2
7.1 50.6
9.1 47.1
11 43.8
13.5 40.2
15.9 36.7
18.4 33.3
20.8 31.3
23.3 30.4
25.7 29.8
28.2 30.8
30.6 33.3
33.1 35.4
35.5 36
38 34
40.4 31.9
42.9 30.4
44.9 28.8
46.8 25.6
48.8 22.9
50.7 25.6
52.7 30.8
55.1 35.4
57.6 37.1
60 35.4
62.5 32.9
65.4 31.3
68.4 30.4
71.3 29.8
74.3 29.8
77.2 29.2
80.1 28.8
83.1 29.2
86 29.8
89 29.8
91.9 29.8
94.9 29.8
97.8 30.4
100.7 30.8
103.7 30.4
106.6 29.2
109.6 27.1
112.5 26.3
115.4 27.1
118.4 27.7
121.3 28.3
124.3 28.8
127.2 28.8
130.1 27.1
133.1 25
136 22.5
139 20.4
141.9 19.4
144.9 19.4
147.8 20
150.7 20.8
153.7 21.5
156.6 22.1
159.6 22.5
162.5 22.1
165.4 20.8
168.4 19.4
171.3 18.8
174.3 18.8
177.2 19.4
180.1 20
183.1 21.5
186 23.5
189 25.6
191.9 27.1
194.9 28.3
197.8 28.8
200.7 28.3
203.7 27.7
206.6 27.7
209.6 28.8
212 31.3
214 35
215.9 39.6
217.9 44.4
219.9 49.2
221.3 53.3
};
\end{axis}
\begin{axis}[pn, at={(833.3pt,-879.3pt)}, width=300pt, height=84pt,
  title={Latency (2 mins)}, xmin=0, xmax=220.6, ymin=18.5, ymax=71.5,
  xtick={0,30,...,210}, xticklabels={15:30,16:00,16:30,17:00,17:30,18:00,18:30,19:00},
  ytick={20,40,60}]
\addplot[bl] table {\blueI};
\addplot[rd] table {
t v
-2.5 59.6
0 58.5
2.5 55.7
4.4 52.1
6.4 47.8
8.3 43.5
10.3 39.9
12.7 36.4
15.2 33.9
17.6 31.7
20.1 30.7
22.5 30
25 30
27.5 31.7
29.9 34.3
31.9 34.9
34.3 31.7
36.8 30
39.2 29.6
41.7 29.2
44.1 27.9
46.1 25.3
48 22.1
50 25.3
52 32.2
53.9 36.4
56.4 38.6
58.8 37.1
61.3 33.9
64.2 30.7
67.2 29.2
70.1 28.5
73 29.2
76 30
78.9 30.7
81.9 30.7
84.8 30.7
87.7 30.7
90.7 30.7
93.6 31.3
96.6 31.7
99.5 31.3
102.5 30
105.4 28.5
108.3 27
111.3 25.7
114.2 25.3
117.2 25.7
120.1 27
123 27.9
126 27.5
128.9 26.4
131.9 24.9
134.8 23.2
137.7 21.5
140.7 21
143.6 21.5
146.6 22.1
149.5 22.7
152.5 23.2
155.4 23.2
158.3 22.7
161.3 22.1
164.2 21
167.2 20
170.1 20
173 20
176 20.6
178.9 22.1
181.9 24.2
184.8 25.7
187.7 27
190.7 27.9
193.6 28.5
196.6 27.9
199.5 27.5
202.5 27.5
205.4 28.5
207.8 30.7
209.8 34.3
211.8 38.6
213.7 43.5
215.7 47.8
217.6 51.4
219.6 54.9
221.6 57.4
223.5 58.5
};
\end{axis}

% separators and sub-figure captions
\draw[line width=1.5pt] (11pt,-307pt) -- (397pt,-307pt);
\draw[line width=1.5pt] (793pt,-345.7pt) -- (1165pt,-345.7pt);
\draw[line width=1.5pt] (397pt,-691pt) -- (783pt,-691pt);
\draw[line width=1.5pt] (397pt,-1001.5pt) -- (783pt,-1001.5pt);
\begin{scope}[every node/.style={font=\capfont\fontsize{30}{32}\selectfont, anchor=base, inner sep=0pt}]
\node at (220.5pt,-337pt) {(a)};
\node at (592.5pt,-337pt) {(b)};
\node at (992pt,-337pt) {(c)};
\node at (221pt,-682pt) {(d)};
\node at (593pt,-682pt) {(e)};
\node at (993pt,-682pt) {(f)};
\node at (221.7pt,-1027pt) {(g)};
\node at (595pt,-1028pt) {(h)};
\node at (992pt,-1028pt) {(i)};
\end{scope}
\end{tikzpicture}
\end{document}
